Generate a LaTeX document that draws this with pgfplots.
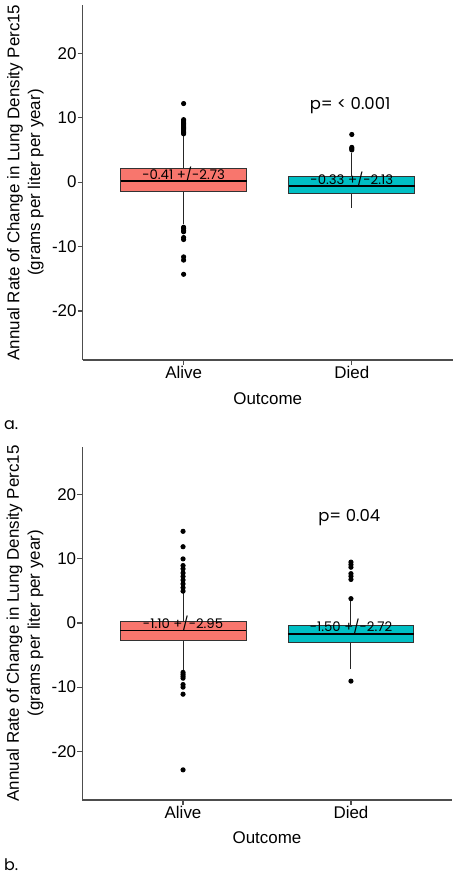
\documentclass[border=0pt]{standalone}
\usepackage{pgfplots}
\pgfplotsset{compat=1.18}
\usepgfplotslibrary{statistics}
\usepackage{fontspec}
\setmainfont{Liberation Sans}
\newfontfamily\annot{Poppins}
\definecolor{salmon}{HTML}{F8766D}
\definecolor{tealc}{HTML}{00BFC4}
\definecolor{axgray}{HTML}{4D4D4D}
\pgfplotsset{
  mybox/.style={
    scale only axis, width=370bp, height=355bp,
    xmin=0.4, xmax=2.6, ymin=-27.6, ymax=27.5,
    axis x line*=bottom, axis y line*=left,
    axis line style={axgray, line width=1.2bp, -},
    xtick={1,2}, xticklabels={Alive,Died},
    ytick={-20,-10,0,10,20},
    tick align=outside, major tick length=5bp,
    tick style={axgray, line width=1.1bp},
    ticklabel style={font=\fontsize{17}{20}\selectfont, inner sep=1bp},
    /pgf/number format/assume math mode=true,
    xlabel={Outcome},
    ylabel={Annual Rate of Change in Lung Density Perc15\\(grams per liter per year)},
    label style={font=\fontsize{17}{21}\selectfont},
    xlabel style={at={(axis description cs:0.5,-0.108)}, anchor=center},
    ylabel style={at={(axis description cs:-0.155,0.5)}, anchor=center, align=center},
    clip=false,
    boxplot/draw direction=y,
    boxplot/every whisker/.style={draw=black!85, line width=1bp},
    boxplot/every median/.style={draw=black, line width=1.7bp},
  },
  bx/.style={draw=black!80, line width=0.9bp, mark=*, mark size=2.1bp,
    mark options={black, fill=black, solid}},
}
\tikzset{
  lbl/.style={font=\annot\fontsize{13.3}{15}\selectfont, inner sep=0pt},
  plbl/.style={font=\annot\fontsize{16.5}{18}\selectfont, inner sep=0pt},
}
\begin{document}
\begin{tikzpicture}[x=1bp,y=1bp]
\path[use as bounding box, fill=white] (0,0) rectangle (459,875);
% ---------------- panel a ----------------
\begin{axis}[mybox, at={(82.7bp,515bp)}, anchor=south west]
\addplot[bx, fill=salmon, boxplot prepared={draw position=1, box extend=0.75, whisker extend=0,
  lower whisker=-6.5, lower quartile=-1.46, median=0.16, upper quartile=2.17, upper whisker=7.3}]
  coordinates {(0,7.5) (0,7.7) (0,7.9) (0,8.1) (0,8.3) (0,8.5) (0,8.7) (0,8.9) (0,9.1) (0,9.3) (0,9.5) (0,9.7) (0,12.2)
  (0,-7.0) (0,-7.2) (0,-7.5) (0,-7.7) (0,-8.6) (0,-8.9) (0,-11.6) (0,-12.1) (0,-14.3)};
\addplot[bx, fill=tealc, boxplot prepared={draw position=2, box extend=0.75, whisker extend=0,
  lower whisker=-4.0, lower quartile=-1.71, median=-0.57, upper quartile=0.87, upper whisker=4.6}]
  coordinates {(0,5.0) (0,5.2) (0,5.4) (0,7.4)};
\node[lbl] at (axis cs:1,1.24) {-0.41 +/-2.73};
\node[lbl] at (axis cs:2,0.36) {-0.33 +/-2.13};
\node[plbl] at (axis cs:1.99,11.85) {p= < 0.001};
\end{axis}
\node[anchor=west, font=\annot\fontsize{16}{18}\selectfont, inner sep=0pt] at (4,450) {a.};
% ---------------- panel b ----------------
\begin{axis}[mybox, width=369.4bp, height=353.3bp, at={(82.3bp,75bp)}, anchor=south west]
\addplot[bx, fill=salmon, boxplot prepared={draw position=1, box extend=0.75, whisker extend=0,
  lower whisker=-7.3, lower quartile=-2.7, median=-1.18, upper quartile=0.26, upper whisker=4.7}]
  coordinates {(0,4.97) (0,5.5) (0,6.1) (0,6.7) (0,7.25) (0,7.8) (0,8.45) (0,8.96) (0,10.0) (0,11.9) (0,14.3)
  (0,-7.7) (0,-8.0) (0,-8.3) (0,-8.6) (0,-9.6) (0,-10.0) (0,-11.1) (0,-22.9)};
\addplot[bx, fill=tealc, boxplot prepared={draw position=2, box extend=0.75, whisker extend=0,
  lower whisker=-7.1, lower quartile=-3.05, median=-1.7, upper quartile=-0.36, upper whisker=3.5}]
  coordinates {(0,3.8) (0,6.8) (0,7.3) (0,7.7) (0,8.7) (0,9.1) (0,9.5) (0,-9.06)};
\node[lbl] at (axis cs:1,-0.1) {-1.10 +/-2.95};
\node[lbl] at (axis cs:2,-0.5) {-1.50 +/-2.72};
\node[plbl] at (axis cs:1.99,16.5) {p= 0.04};
\end{axis}
\node[anchor=west, font=\annot\fontsize{16}{18}\selectfont, inner sep=0pt] at (4,10) {b.};
\end{tikzpicture}
\end{document}
